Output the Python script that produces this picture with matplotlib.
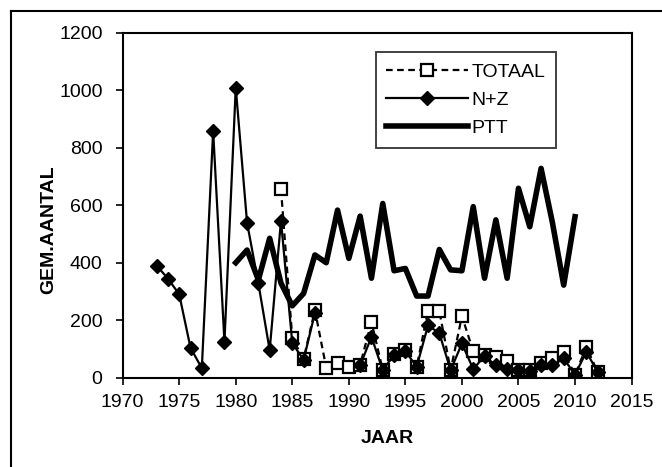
import numpy as np
import matplotlib.pyplot as plt
from matplotlib.lines import Line2D

plt.rcParams['font.family'] = ['Liberation Sans', 'DejaVu Sans']

# N+Z (1973-1987, 1991-2012), gap 1988-1990
nz_years = [1973, 1974, 1975, 1976, 1977, 1978, 1979, 1980, 1981, 1982, 1983, 1984, 1985, 1986, 1987,
            1988, 1989, 1990,
            1991, 1992, 1993, 1994, 1995, 1996, 1997, 1998, 1999, 2000, 2001, 2002, 2003, 2004, 2005,
            2006, 2007, 2008, 2009, 2010, 2011, 2012]
nz_vals = [390, 345, 290, 104, 33, 858, 125, 1009, 539, 328, 96, 546, 120, 62, 225,
           np.nan, np.nan, np.nan,
           43, 142, 26, 80, 92, 38, 182, 155, 26, 119, 30, 75, 43, 32, 26,
           25, 45, 43, 67, 10, 90, 20]

tot_years = [1984, 1985, 1986, 1987, 1988, 1989, 1990, 1991, 1992, 1993, 1994, 1995, 1996, 1997,
             1998, 1999, 2000, 2001, 2002, 2003, 2004, 2005, 2006, 2007, 2008, 2009, 2010, 2011, 2012]
tot_vals = [656, 137, 65, 235, 35, 50, 38, 45, 194, 26, 82, 96, 38, 232,
            232, 26, 214, 92, 78, 72, 58, 28, 27, 50, 67, 90, 10, 107, 20]

ptt_years = list(range(1980, 2011))
ptt_vals = [400, 444, 340, 485, 329, 250, 293, 427, 400, 583, 415, 562, 346, 606, 372,
            380, 284, 284, 446, 375, 372, 595, 346, 549, 346, 659, 525, 728, 540, 322, 560]

fs = 14

fig = plt.figure(figsize=(6.62, 4.67), dpi=100)
ax = fig.add_axes([0.1853, 0.1912, 0.7687, 0.7388])

ax.plot(tot_years, tot_vals, 'k--', lw=1.6, dashes=(3, 2), marker='s', ms=8,
        mfc='white', mec='black', mew=1.6, label='TOTAAL')
ax.plot(nz_years, nz_vals, 'k-', lw=1.6, marker='D', ms=7, mfc='black', mec='black',
        label='N+Z')
ax.plot(ptt_years, ptt_vals, 'k-', lw=4.0, label='PTT')

ax.set_xlim(1970, 2015)
ax.set_ylim(0, 1200)
ax.set_xticks(np.arange(1970, 2016, 5))
ax.set_yticks(np.arange(0, 1201, 200))
ax.tick_params(axis='both', direction='out', length=5, width=1.2, labelsize=fs, colors='black')
ax.tick_params(axis='x', pad=6.8)
ax.tick_params(axis='y', pad=9.5)
for s in ax.spines.values():
    s.set_linewidth(1.5)

ax.set_xlabel('JAAR', fontsize=fs, fontweight='bold')
ax.set_ylabel('GEM.AANTAL', fontsize=fs, fontweight='bold')
ax.xaxis.set_label_coords(0.52, -0.153)
ax.yaxis.set_label_coords(-0.128, 0.428)

leg = ax.legend(loc='upper left', bbox_to_anchor=(0.497, 0.943), fontsize=fs, frameon=True,
                fancybox=False, edgecolor='black', handlelength=4.2, handletextpad=0.2,
                borderpad=0.55, labelspacing=0.55, borderaxespad=0)
leg.get_frame().set_linewidth(1.3)

# outer chart frame (cropped scan: only top and left edges visible)
fig.add_artist(Line2D([11 / 662, 1.0], [1 - 11 / 467, 1 - 11 / 467], color='black', lw=1.5,
                      transform=fig.transFigure))
fig.add_artist(Line2D([11 / 662, 11 / 662], [0, 1 - 11 / 467], color='black', lw=1.5,
                      transform=fig.transFigure))

fig.savefig('out.png', dpi=100)
